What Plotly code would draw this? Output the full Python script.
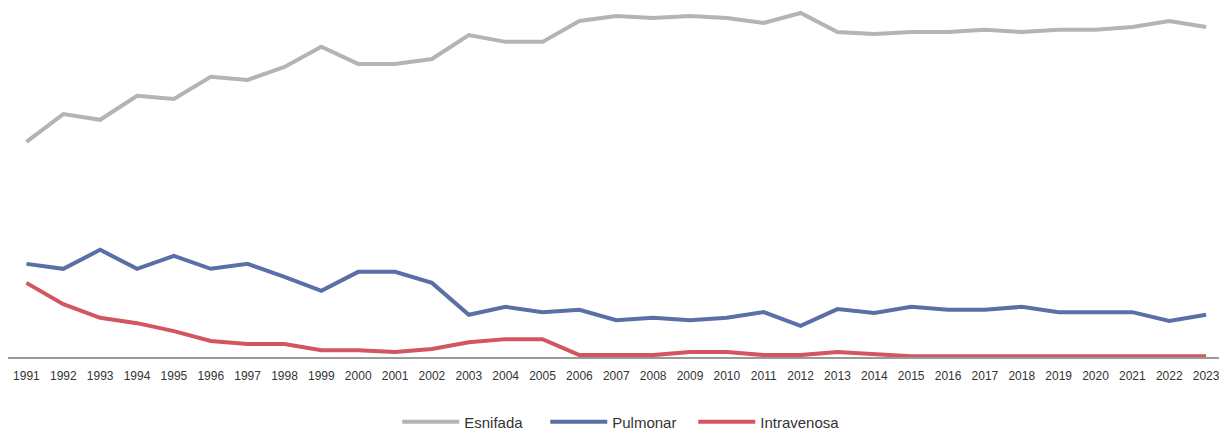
import plotly.graph_objects as go

years = [str(y) for y in range(1991, 2024)]

esnifada = [56.6, 63.9, 62.4, 68.7, 67.9, 73.7, 72.9, 76.3, 81.6, 77.1, 77.1, 78.4,
            84.7, 82.9, 82.9, 88.4, 89.7, 89.2, 89.7, 89.2, 87.9, 90.5, 85.5, 85.0,
            85.5, 85.5, 86.1, 85.5, 86.1, 86.1, 86.8, 88.4, 86.8]
pulmonar = [24.5, 23.2, 28.2, 23.2, 26.6, 23.2, 24.5, 21.1, 17.4, 22.4, 22.4, 19.5,
            11.1, 13.2, 11.8, 12.4, 9.7, 10.3, 9.7, 10.3, 11.8, 8.2, 12.6, 11.6,
            13.2, 12.4, 12.4, 13.2, 11.8, 11.8, 11.8, 9.5, 11.1]
intravenosa = [19.5, 13.9, 10.3, 8.9, 6.8, 4.2, 3.4, 3.4, 1.8, 1.8, 1.3, 2.1,
               3.9, 4.7, 4.7, 0.5, 0.5, 0.5, 1.3, 1.3, 0.5, 0.5, 1.3, 0.8,
               0.2, 0.2, 0.2, 0.2, 0.2, 0.2, 0.2, 0.2, 0.2]

series = [
    ("Esnifada", esnifada, "#b8b2b1"),
    ("Pulmonar", pulmonar, "#5a6fa6"),
    ("Intravenosa", intravenosa, "#d2555f"),
]

fig = go.Figure()
for name, vals, color in series:
    fig.add_trace(go.Scatter(x=years, y=vals, name=name, mode="lines",
                             line=dict(color=color, width=4)))

fig.update_layout(
    width=1219, height=430,
    margin=dict(l=8, r=0, t=5, b=73),
    paper_bgcolor="white", plot_bgcolor="white",
    font=dict(family="Liberation Sans, Arial, sans-serif", color="#333333", size=12),
    showlegend=True,
    legend=dict(orientation="h", x=0.508, xanchor="center", xref="container",
                y=1 - 422 / 430, yanchor="middle", yref="container",
                font=dict(size=15, color="#333333"), itemwidth=57,
                entrywidth=76, entrywidthmode="pixels"),
    xaxis=dict(type="category", range=[-0.5, 32.35], showgrid=False,
               showline=True, linecolor="#9a9a9a", linewidth=2,
               ticks="", ticklabelstandoff=7,
               tickfont=dict(size=12, color="#333333"), tickangle=0),
    yaxis=dict(range=[0, 92.6], showgrid=False, showticklabels=False,
               zeroline=False, showline=False),
)

fig.write_html("out.html", config={"displayModeBar": False},
               post_script="document.body.style.margin='0';")
